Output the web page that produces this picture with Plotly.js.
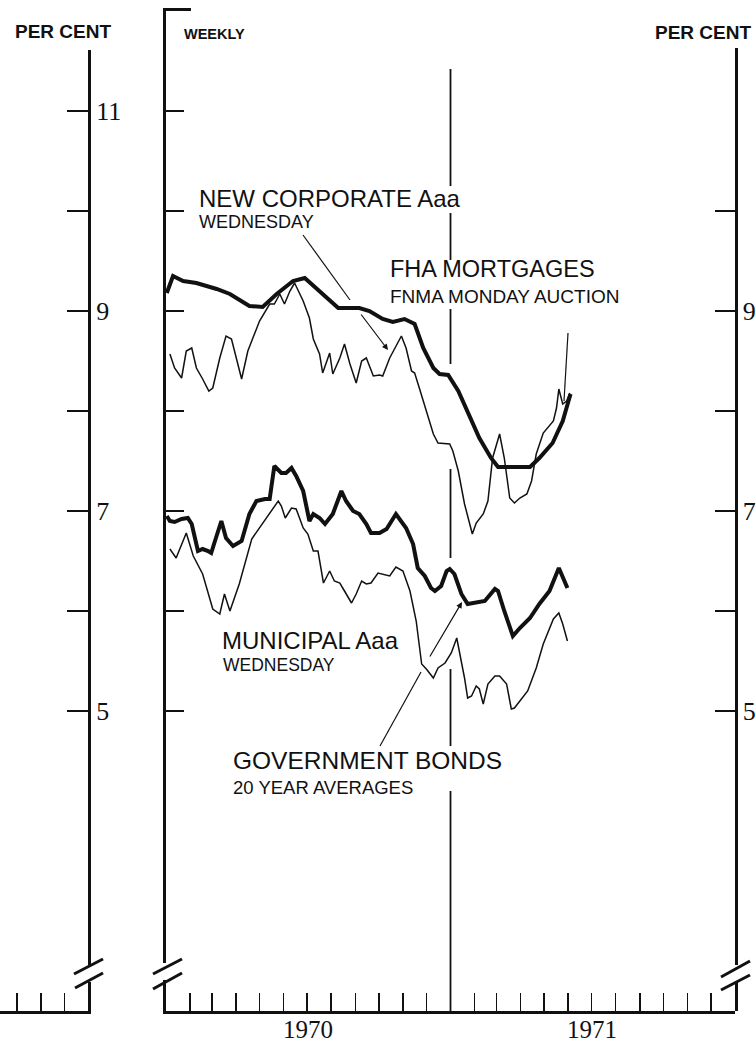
<!DOCTYPE html>
<html>
<head>
<meta charset="utf-8">
<script src="https://cdn.plot.ly/plotly-3.0.1.min.js"></script>
<style>html,body{margin:0;padding:0;background:#fff;}#chart{width:756px;height:1046px;}</style>
</head>
<body>
<div id="chart"></div>
<script>
// ---------- DATA ----------
const corpDates = ['1970-01-02','1970-01-10','1970-01-23','1970-02-09','1970-03-07','1970-03-24','1970-04-18','1970-05-05','1970-05-23','1970-06-13','1970-06-28','1970-07-21','1970-08-10','1970-09-06','1970-09-19','1970-10-06','1970-10-19','1970-11-03','1970-11-16','1970-11-27','1970-12-10','1970-12-18','1970-12-29','1971-01-11','1971-01-23','1971-02-07','1971-02-22','1971-03-03','1971-04-13','1971-04-25','1971-05-12','1971-05-25','1971-06-04'];
const corpYield = [9.18,9.35,9.30,9.28,9.22,9.17,9.05,9.04,9.17,9.30,9.33,9.17,9.03,9.03,9.00,8.92,8.89,8.92,8.87,8.63,8.43,8.37,8.36,8.20,8.00,7.73,7.53,7.44,7.44,7.53,7.68,7.90,8.17];

const fhaDates = ['1970-01-06','1970-01-12','1970-01-21','1970-01-27','1970-02-03','1970-02-09','1970-02-17','1970-02-25','1970-03-02','1970-03-11','1970-03-19','1970-03-26','1970-04-08','1970-04-16','1970-05-01','1970-05-14','1970-05-20','1970-05-27','1970-06-02','1970-06-09','1970-06-15','1970-06-26','1970-07-04','1970-07-09','1970-07-17','1970-07-21','1970-07-30','1970-08-03','1970-08-12','1970-08-18','1970-08-25','1970-09-02','1970-09-09','1970-09-15','1970-09-24','1970-10-02','1970-10-06','1970-10-15','1970-10-30','1970-11-05','1970-11-12','1970-11-16','1970-11-22','1970-12-01','1970-12-10','1970-12-16','1970-12-31','1971-01-04','1971-01-11','1971-01-19','1971-01-29','1971-02-03','1971-02-12','1971-02-18','1971-02-24','1971-03-05','1971-03-11','1971-03-18','1971-03-24','1971-03-31','1971-04-09','1971-04-15','1971-04-21','1971-04-30','1971-05-13','1971-05-17','1971-05-20','1971-05-25','1971-05-30','1971-06-03'];
const fhaYield = [8.57,8.43,8.33,8.60,8.63,8.43,8.32,8.20,8.23,8.53,8.75,8.72,8.32,8.60,8.90,9.07,9.07,9.17,9.07,9.20,9.28,9.10,8.93,8.72,8.57,8.38,8.58,8.37,8.53,8.67,8.47,8.28,8.50,8.53,8.35,8.36,8.35,8.53,8.75,8.63,8.40,8.38,8.23,8.00,7.77,7.68,7.67,7.60,7.40,7.07,6.77,6.88,6.97,7.10,7.53,7.77,7.53,7.13,7.08,7.13,7.17,7.30,7.57,7.78,7.90,8.03,8.22,8.07,8.10,8.18];

const govDates = ['1970-01-02','1970-01-06','1970-01-12','1970-01-21','1970-01-29','1970-02-03','1970-02-11','1970-02-17','1970-02-24','1970-02-28','1970-03-04','1970-03-13','1970-03-19','1970-03-28','1970-04-08','1970-04-18','1970-04-27','1970-05-08','1970-05-14','1970-05-20','1970-05-29','1970-06-04','1970-06-11','1970-06-17','1970-06-26','1970-06-30','1970-07-04','1970-07-09','1970-07-17','1970-07-24','1970-08-03','1970-08-14','1970-08-20','1970-08-29','1970-09-06','1970-09-15','1970-09-21','1970-10-02','1970-10-11','1970-10-23','1970-11-05','1970-11-14','1970-11-20','1970-11-29','1970-12-07','1970-12-12','1970-12-20','1970-12-27','1970-12-31','1971-01-06','1971-01-15','1971-01-23','1971-02-01','1971-02-14','1971-02-27','1971-03-03','1971-03-11','1971-03-22','1971-03-31','1971-04-13','1971-04-25','1971-05-08','1971-05-20','1971-05-25','1971-05-31'];
const govYield = [6.95,6.90,6.89,6.92,6.93,6.87,6.60,6.62,6.60,6.58,6.68,6.90,6.73,6.65,6.70,6.97,7.10,7.12,7.12,7.45,7.38,7.38,7.43,7.35,7.20,7.03,6.90,6.97,6.93,6.87,6.97,7.20,7.10,7.00,6.97,6.87,6.78,6.78,6.82,6.97,6.83,6.67,6.43,6.35,6.23,6.20,6.25,6.40,6.42,6.37,6.17,6.07,6.08,6.10,6.22,6.20,6.00,5.75,5.83,5.93,6.07,6.20,6.43,6.33,6.23];

const muniDates = ['1970-01-06','1970-01-14','1970-01-27','1970-02-05','1970-02-17','1970-03-02','1970-03-11','1970-03-17','1970-03-24','1970-04-05','1970-04-21','1970-05-01','1970-05-12','1970-05-25','1970-05-29','1970-06-03','1970-06-11','1970-06-17','1970-06-26','1970-07-02','1970-07-09','1970-07-15','1970-07-22','1970-07-30','1970-08-05','1970-08-12','1970-08-18','1970-08-27','1970-09-02','1970-09-09','1970-09-15','1970-09-21','1970-09-30','1970-10-06','1970-10-15','1970-10-23','1970-11-01','1970-11-10','1970-11-18','1970-11-25','1970-12-01','1970-12-10','1970-12-16','1970-12-25','1971-01-02','1971-01-09','1971-01-13','1971-01-19','1971-01-23','1971-01-28','1971-02-03','1971-02-07','1971-02-12','1971-02-18','1971-02-27','1971-03-05','1971-03-14','1971-03-20','1971-03-24','1971-04-02','1971-04-10','1971-04-21','1971-04-30','1971-05-13','1971-05-20','1971-05-25','1971-05-31'];
const muniYield = [6.62,6.53,6.78,6.55,6.37,6.02,5.97,6.17,6.00,6.27,6.72,6.83,6.95,7.10,7.05,6.93,7.03,7.02,6.83,6.77,6.60,6.60,6.28,6.40,6.30,6.28,6.20,6.08,6.17,6.30,6.27,6.28,6.38,6.37,6.35,6.44,6.40,6.20,5.90,5.47,5.42,5.33,5.43,5.48,5.58,5.73,5.57,5.33,5.13,5.15,5.25,5.22,5.07,5.27,5.35,5.35,5.27,5.02,5.03,5.12,5.20,5.43,5.67,5.92,5.98,5.87,5.70];

const monthTicks = ['1970-02-01','1970-03-01','1970-04-01','1970-05-01','1970-06-01','1970-07-01','1970-08-01','1970-09-01','1970-10-01','1970-11-01','1970-12-01','1971-01-01','1971-02-01','1971-03-01','1971-04-01','1971-05-01','1971-06-01','1971-07-01','1971-08-01','1971-09-01','1971-10-01','1971-11-01','1971-12-01'];
const yearLabels = ['1970','1971'];
const yearCenters = ['1970-07-02','1971-07-02'];
const leftTickVals = [5,6,7,8,9,10,11];
const leftTickText = ['5','','7','','9','','11'];
const rightTickVals = [5,6,7,8,9,10];
const rightTickText = ['5','','7','','9',''];
const yearBoundary = '1971-01-01';

// ---------- helpers (page pixels -> paper) ----------
const W = 756, H = 1046;
const px = x => x / W;
const py = y => 1 - y / H;
const SANS = 'Liberation Sans, Arial, sans-serif';
const SERIF = 'Liberation Serif, Times New Roman, serif';
const INK = '#111';

const traces = [
  {x: corpDates, y: corpYield, name: 'New corporate Aaa', mode: 'lines', line: {color: INK, width: 4}},
  {x: fhaDates, y: fhaYield, name: 'FHA mortgages', mode: 'lines', line: {color: INK, width: 1.5}},
  {x: govDates, y: govYield, name: 'Government bonds', mode: 'lines', line: {color: INK, width: 4}},
  {x: muniDates, y: muniYield, name: 'Municipal Aaa', mode: 'lines', line: {color: INK, width: 1.5}},
  {x: [], y: [], xaxis: 'x2', yaxis: 'y2', mode: 'lines', showlegend: false},
  {x: [], y: [], xaxis: 'x3', yaxis: 'y3', mode: 'lines', showlegend: false}
];

function label(text, x, y, size, bold) {
  return {text: bold ? '<b>' + text + '</b>' : text, x: px(x), y: py(y), xref: 'paper', yref: 'paper',
    xanchor: 'left', yanchor: 'middle', showarrow: false, font: {family: SANS, size: size, color: INK}};
}
function arrow(hx, hy, tx, ty) {
  return {text: '', x: px(hx), y: py(hy), xref: 'paper', yref: 'paper', showarrow: true,
    ax: tx - hx, ay: ty - hy, arrowhead: 2, arrowsize: 1, arrowwidth: 1.2, arrowcolor: INK};
}
function seg(x0, y0, x1, y1, w) {
  return {type: 'line', xref: 'paper', yref: 'paper', x0: px(x0), y0: py(y0), x1: px(x1), y1: py(y1),
    line: {color: INK, width: w}, layer: 'above'};
}
function gap(x, y0, y1) {
  return {type: 'rect', xref: 'paper', yref: 'paper', x0: px(x - 5), x1: px(x + 5), y0: py(y1), y1: py(y0),
    fillcolor: '#fff', line: {width: 0}, layer: 'above'};
}

const annotations = [
  label('PER CENT', 13, 32, 19, true),
  label('PER CENT', 653, 33, 19, true),
  label('WEEKLY', 182, 34, 14.5, true),
  label('NEW CORPORATE Aaa', 197, 199, 24),
  label('WEDNESDAY', 197, 222, 18),
  label('FHA MORTGAGES', 388, 269, 23.5),
  label('FNMA MONDAY AUCTION', 388, 297, 19),
  label('MUNICIPAL Aaa', 220, 640, 24),
  label('WEDNESDAY', 221, 665, 17.5),
  label('GOVERNMENT BONDS', 231, 760, 24.5),
  label('20 YEAR AVERAGES', 231, 787, 18.5),
  arrow(388, 350, 360, 313),
  arrow(462, 602, 429, 658)
];
yearLabels.forEach((t, i) => annotations.push({text: t, x: yearCenters[i], xref: 'x', y: py(1045), yref: 'paper',
  xanchor: 'center', yanchor: 'bottom', showarrow: false, font: {family: SERIF, size: 25, color: INK}}));

// vertical year-boundary line, broken where text and lines cross it
const refSegments = [[11.42, 10.25], [9.98, 9.51], [9.02, 8.47], [7.42, 6.53], [5.42, 4.65], [4.2, 2.0]];
const shapes = refSegments.map(s => ({type: 'line', xref: 'x', yref: 'y', x0: yearBoundary, x1: yearBoundary,
  y0: s[1], y1: s[0], line: {color: INK, width: 1.8}, layer: 'above'}));

shapes.push(
  seg(303, 235, 350, 300, 1.2),          // corporate leader
  seg(380, 746, 421, 672, 1.2),          // government leader (lower part)
  seg(568, 333, 564, 401, 1.2),          // pointer to latest value
  seg(163, 9.5, 191, 9.5, 3),            // top bracket of main axis
  gap(88, 965, 982), gap(166, 963, 980), gap(735, 965, 982),
  seg(74, 974, 103, 959, 3), seg(75, 988, 103, 973, 3),
  seg(153, 974, 182, 959, 3), seg(153, 989, 182, 973, 3),
  seg(721, 977, 750, 961, 3), seg(721, 990, 750, 975, 3)
);

const layout = {
  width: W, height: H, margin: {l: 0, r: 0, t: 0, b: 0}, paper_bgcolor: '#fff', plot_bgcolor: 'rgba(0,0,0,0)',
  showlegend: false,
  xaxis: {type: 'date', domain: [px(166), px(735)], range: ['1970-01-01', '1972-01-01'], anchor: 'y',
    showline: true, linewidth: 3, linecolor: INK, ticks: 'inside', ticklen: 18, tickwidth: 1.5, tickcolor: INK,
    tickmode: 'array', tickvals: monthTicks, showticklabels: false, showgrid: false, zeroline: false, fixedrange: true},
  yaxis: {domain: [py(1011), py(9.5)], range: [2, 12.015], anchor: 'x', side: 'left',
    showline: true, linewidth: 3.5, linecolor: INK, ticks: 'inside', ticklen: 18, tickwidth: 1.5, tickcolor: INK,
    tickmode: 'array', tickvals: leftTickVals, showticklabels: false, showgrid: false, zeroline: false, fixedrange: true},
  xaxis2: {domain: [0, px(88)], range: [-3.73, 0], anchor: 'y2',
    showline: true, linewidth: 3, linecolor: INK, ticks: 'inside', ticklen: 18, tickwidth: 1.5, tickcolor: INK,
    tickmode: 'array', tickvals: [-3, -2, -1], showticklabels: false, showgrid: false, zeroline: false, fixedrange: true},
  yaxis2: {domain: [py(1011), py(50)], range: [2, 11.61], anchor: 'x2', side: 'right',
    showline: true, linewidth: 3, linecolor: INK, ticks: 'inside', ticklen: 21, tickwidth: 1.5, tickcolor: INK,
    tickmode: 'array', tickvals: leftTickVals, ticktext: leftTickText, tickfont: {family: SERIF, size: 26, color: INK},
    showgrid: false, zeroline: false, fixedrange: true},
  xaxis3: {domain: [px(700), px(735)], range: [0, 1], anchor: 'y3', visible: false, fixedrange: true},
  yaxis3: {domain: [py(1011), py(48)], range: [2, 11.63], anchor: 'x3', side: 'right',
    showline: true, linewidth: 2.5, linecolor: INK, ticks: 'inside', ticklen: 20, tickwidth: 1.5, tickcolor: INK,
    tickmode: 'array', tickvals: rightTickVals, ticktext: rightTickText, tickfont: {family: SERIF, size: 26, color: INK},
    showgrid: false, zeroline: false, fixedrange: true},
  annotations: annotations,
  shapes: shapes
};

Plotly.newPlot('chart', traces, layout, {displayModeBar: false, staticPlot: true});
</script>
</body>
</html>
